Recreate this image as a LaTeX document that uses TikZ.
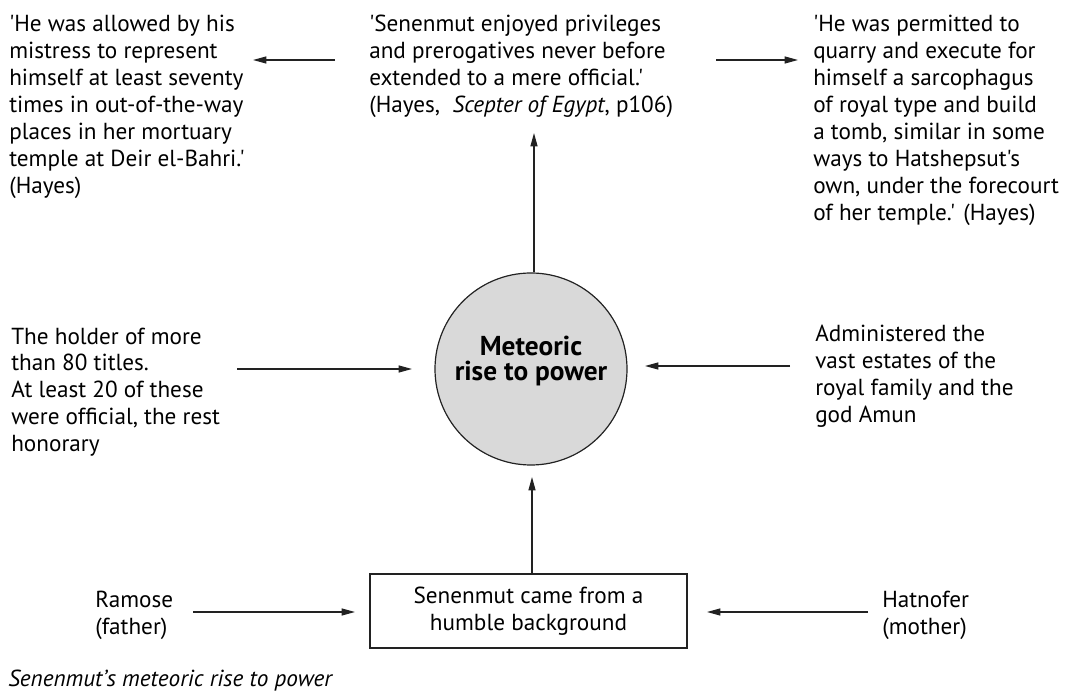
\documentclass[tikz,border=0pt]{standalone}
\usepackage{fontspec}
\newfontfamily\diagfont{PT Sans}
\usetikzlibrary{arrows.meta}
\definecolor{linecol}{HTML}{222222}
\definecolor{circfill}{HTML}{D9D9D9}
\newcommand\regfont{\diagfont\fontsize{17.4}{20.25}\selectfont}
\begin{document}
\begin{tikzpicture}[x=0.75pt,y=-0.75pt,
  txt/.style={anchor=base west, inner sep=0pt, align=left, font=\regfont},
  arr/.style={draw=linecol, line width=0.9pt, -{Triangle[length=10pt,width=5.25pt]}}]
\useasboundingbox (0,0) rectangle (1076,695);

% texts (anchored at the baseline of their last line)
\node[txt] (tl) at (9,194) {'He was allowed by his\\mistress to represent\\himself at least seventy\\times in out-of-the-way\\places in her mortuary\\temple at Deir el-Bahri.'\\(Hayes)};
\node[txt] (tm) at (369,113) {'Senenmut enjoyed privileges\\and prerogatives never before\\extended to a mere official.'\\(Hayes,\ \ \textit{Scepter of Egypt}, p106)};
\node[txt] (tr) at (813,221) {'He was permitted to\\quarry and execute for\\himself a sarcophagus\\of royal type and build\\a tomb, similar in some\\ways to Hatshepsut's\\own, under the forecourt\\of her temple.' (Hayes)};
\node[txt] (ml) at (11,452) {The holder of more\\than 80 titles.\\At least 20 of these\\were official, the rest\\honorary};
\node[txt] (mr) at (815,423) {Administered the\\vast estates of the\\royal family and the\\god Amun};
\node[txt] (ra) at (95,634) {Ramose\\(father)};
\node[txt] (ha) at (882,634) {Hatnofer\\(mother)};
\node[txt, font=\regfont\itshape] (cap) at (8,686) {Senenmut’s meteoric rise to power};

% circle
\node[circle, draw=linecol, line width=0.9pt, fill=circfill, minimum size=192*0.75pt, inner sep=0pt] (circ) at (531,369) {};
\node[inner sep=0pt, align=center, font=\diagfont\bfseries\fontsize{20.5}{18.75}\selectfont]
  (circtext) at ([yshift=6pt]circ.center) {Meteoric\\rise to power};

% box
\node[draw=linecol, line width=0.9pt, rectangle, minimum width=317*0.75pt, minimum height=74*0.75pt,
      align=center, inner sep=0pt, font=\regfont] (box) at (528.5,611) {\rule{0pt}{6pt}Senenmut came from a\\humble background};

% arrow coordinates
\coordinate (tlS) at (335,60);
\coordinate (tlE) at (253,60);
\coordinate (trS) at (716,60);
\coordinate (trE) at (798,60);
\coordinate (upE) at (534,133);
\coordinate (mlS) at (237,369);
\coordinate (mlE) at (412,369);
\coordinate (mrS) at (790,366);
\coordinate (mrE) at (645,366);
\coordinate (boxE) at (532,477);
\coordinate (raS) at (193,612);
\coordinate (raE) at (355,612);
\coordinate (haS) at (868,612);
\coordinate (haE) at (707,612);

\draw[arr] (tlS) -- (tlE);
\draw[arr] (trS) -- (trE);
\draw[arr] (circ.north -| upE) -- (upE);
\draw[arr] (mlS) -- (mlE);
\draw[arr] (mrS) -- (mrE);
\draw[arr] (box.north -| boxE) -- (boxE);
\draw[arr] (raS) -- (raE);
\draw[arr] (haS) -- (haE);
\end{tikzpicture}
\end{document}
